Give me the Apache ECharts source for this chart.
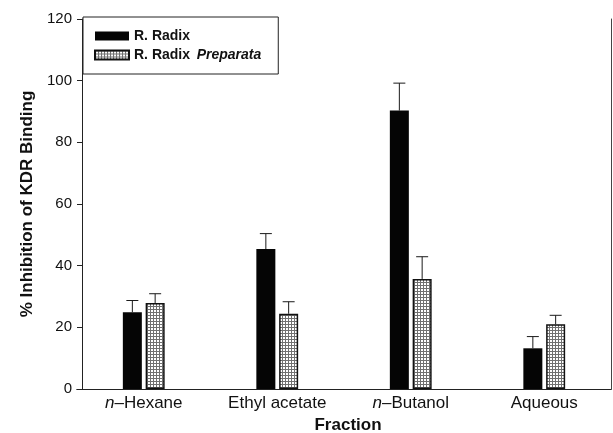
<!DOCTYPE html>
<html>
<head>
<meta charset="utf-8">
<script src="https://cdn.jsdelivr.net/npm/echarts@6/dist/echarts.min.js"></script>
<style>
html,body{margin:0;padding:0;background:#fff;}
#chart{width:613px;height:433px;}
</style>
</head>
<body>
<div id="chart"></div>
<script>
// ---- data ----
const categories = ['n-Hexane', 'Ethyl acetate', 'n-Butanol', 'Aqueous'];
const seriesNames = ['R. Radix', 'R. Radix  Preparata'];
const radixValues = [24.9, 45.4, 90.3, 13.2];
const radixErrors = [3.8, 5.0, 8.9, 3.8];
const prepValues = [27.9, 24.4, 35.7, 21.0];
const prepErrors = [3.0, 3.9, 7.2, 2.9];
const yTicks = [0, 20, 40, 60, 80, 100, 120];

const FONT = '"Liberation Sans", Arial, Helvetica, sans-serif';

// dotted mesh pattern for the second series
const pat = document.createElement('canvas');
pat.width = 3; pat.height = 3;
const pc = pat.getContext('2d');
pc.fillStyle = '#ffffff'; pc.fillRect(0, 0, 3, 3);
pc.fillStyle = '#707070';
pc.fillRect(0, 0, 3, 1);
pc.fillRect(0, 0, 1, 3);
const patternFill = { image: pat, repeat: 'repeat' };

const BAR_W = 19;
const BAR_GAP_PCT = 20;
const HALF_OFF = (BAR_W + BAR_W * BAR_GAP_PCT / 100) / 2;

function errData(vals, errs) {
  return vals.map((v, i) => [i, v, errs[i]]);
}
function errRender(offset) {
  return function (params, api) {
    const i = api.value(0), v = api.value(1), e = api.value(2);
    const b = api.coord([i, v]);
    const t = api.coord([i, v + e]);
    const x = b[0] + offset;
    const capHalf = 6;
    const st = { stroke: '#1a1a1a', lineWidth: 1 };
    return {
      type: 'group',
      children: [
        { type: 'line', shape: { x1: x, y1: b[1], x2: x, y2: t[1] }, style: st },
        { type: 'line', shape: { x1: x - capHalf, y1: t[1], x2: x + capHalf, y2: t[1] }, style: st }
      ]
    };
  };
}

const chart = echarts.init(document.getElementById('chart'), null, { renderer: 'canvas' });
chart.setOption({
  animation: false,
  backgroundColor: '#ffffff',
  textStyle: { fontFamily: FONT },
  grid: { left: 77, right: 2, top: 19, bottom: 44, containLabel: false, outerBoundsMode: 'none' },
  legend: {
    left: 83, top: 17,
    orient: 'vertical',
    data: seriesNames,
    itemWidth: 34, itemHeight: 9, itemGap: 5,
    padding: [12, 17, 12, 11],
    borderColor: '#222', borderWidth: 1,
    backgroundColor: '#fff',
    icon: 'rect',
    formatter: function (name) {
      if (name.indexOf('Preparata') >= 0) return '{b|R. Radix}  {i|Preparata}';
      return '{b|' + name + '}';
    },
    textStyle: {
      rich: {
        b: { fontFamily: FONT, fontWeight: 'bold', fontSize: 14, color: '#111' },
        i: { fontFamily: FONT, fontWeight: 'bold', fontStyle: 'italic', fontSize: 14, color: '#111' }
      }
    }
  },
  xAxis: [
    {
      type: 'category',
      data: categories,
      position: 'bottom',
      axisLine: { show: true, lineStyle: { color: '#222', width: 1 } },
      axisTick: { show: false },
      axisLabel: {
        margin: 6,
        formatter: function (v) {
          if (v.indexOf('n-') === 0) return '{i|n}{r|–' + v.slice(2) + '}';
          return '{r|' + v + '}';
        },
        rich: {
          r: { fontFamily: FONT, fontSize: 17, color: '#111' },
          i: { fontFamily: FONT, fontSize: 17, fontStyle: 'italic', color: '#111' }
        }
      },
      name: 'Fraction',
      nameLocation: 'middle',
      nameGap: 28,
      nameTextStyle: { fontFamily: FONT, fontWeight: 'bold', fontSize: 17, color: '#111', padding: [0, 0, 0, 8] }
    },
    {
      type: 'category',
      data: categories,
      position: 'top',
      axisLine: { show: true, lineStyle: { color: '#222', width: 1 } },
      axisTick: { show: false },
      axisLabel: { show: false }
    }
  ],
  yAxis: [
    {
      type: 'value',
      min: 0, max: 120, interval: 20,
      offset: -5,
      axisLine: { show: true, lineStyle: { color: '#222', width: 1 } },
      axisTick: { show: true, length: 5, lineStyle: { color: '#222' } },
      splitLine: { show: false },
      axisLabel: {
        margin: 10,
        fontFamily: FONT, fontSize: 15, color: '#111',
        formatter: function (v) { return yTicks.indexOf(v) >= 0 ? String(v) : ''; }
      },
      name: '% Inhibition of KDR Binding',
      nameLocation: 'middle',
      nameGap: 44,
      nameTextStyle: { fontFamily: FONT, fontWeight: 'bold', fontSize: 17, color: '#111' }
    },
    {
      type: 'value',
      min: 0, max: 120, interval: 20,
      position: 'right',
      axisLine: { show: true, lineStyle: { color: '#444', width: 1 } },
      axisTick: { show: false },
      axisLabel: { show: false },
      splitLine: { show: false }
    }
  ],
  series: [
    {
      name: seriesNames[0],
      type: 'bar',
      data: radixValues,
      barWidth: BAR_W,
      barGap: BAR_GAP_PCT + '%',
      itemStyle: { color: '#050505', borderColor: '#000', borderWidth: 0 }
    },
    {
      name: seriesNames[1],
      type: 'bar',
      data: prepValues,
      barWidth: BAR_W,
      barGap: BAR_GAP_PCT + '%',
      itemStyle: { color: patternFill, borderColor: '#111', borderWidth: 1.5 }
    },
    {
      type: 'custom',
      name: 'errA',
      data: errData(radixValues, radixErrors),
      encode: { x: 0, y: 1 },
      renderItem: errRender(-HALF_OFF),
      z: 3
    },
    {
      type: 'custom',
      name: 'errB',
      data: errData(prepValues, prepErrors),
      encode: { x: 0, y: 1 },
      renderItem: errRender(HALF_OFF),
      z: 3
    }
  ]
});
</script>
</body>
</html>
